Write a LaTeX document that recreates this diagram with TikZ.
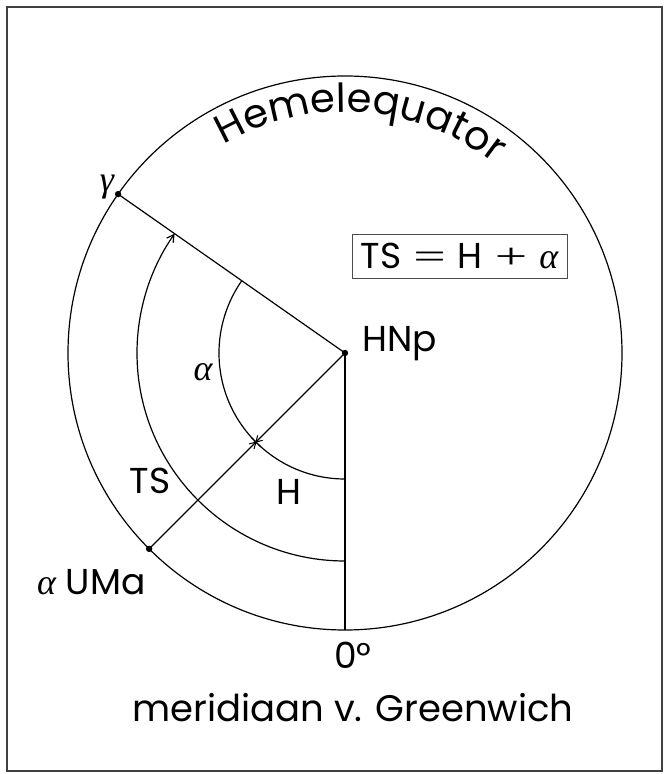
\documentclass[tikz,border=0pt]{standalone}
\usepackage{fontspec}
\setmainfont{Poppins}
\newfontfamily\grk{Liberation Serif}
\usetikzlibrary{decorations.text,arrows.meta}
\tikzset{
  lbl/.style={font=\fontsize{36}{36}\selectfont, inner sep=0pt},
  thinline/.style={line width=1.2pt},
  dotmark/.style={fill=black},
}
\newcommand{\galpha}{{\grk\itshape α}}
\newcommand{\ggamma}{{\grk\itshape γ}}
\newcommand{\wideop}[1]{\scalebox{1.6}[1]{\grk #1}}
\begin{document}
\begin{tikzpicture}[x=1pt,y=1pt]
\useasboundingbox (0,0) rectangle (665,774);
% frame
\draw[line width=2pt, black!75] (7,3) rectangle (662,767);
% centre
\coordinate (C) at (345,421);
\coordinate (G) at ([shift={(345,421)}]145:277pt);
\coordinate (U) at ([shift={(345,421)}]225:277pt);
\coordinate (Z) at ([shift={(345,421)}]270:277pt);
\coordinate (S) at ([shift={(345,421)}]225:126pt);
% circle
\draw[thinline] (C) circle (277pt);
% lines
\draw[thinline] (C) -- (G);
\draw[thinline] (C) -- (U);
\draw[thinline] (C) -- (Z);
% arcs
\draw[thinline] ([shift={(345,421)}]270:126pt) arc[start angle=270, end angle=145, radius=126pt];
\draw[thinline, -{Straight Barb[length=7pt,width=8pt]}] ([shift={(345,421)}]270:208pt) arc[start angle=270, end angle=145, radius=208pt];
% star
\foreach \a in {15,75,135} {\draw[line width=1pt] ([shift={(\a:7pt)}]S) -- ([shift={(\a+180:7pt)}]S);}
% dots
\fill[dotmark] (C) circle (3.2pt);
\fill[dotmark] (G) circle (3.2pt);
\fill[dotmark] (U) circle (3.2pt);
% curved text
\path[decorate, decoration={text along path, text align=center, text={|\fontsize{40}{40}\selectfont|Hemelequator}}]
  ([shift={(345,421)}]160:241pt) arc[start angle=160, end angle=12, radius=241pt];
% labels
\node[lbl, anchor=base west] (hnp) at (362,422) {HNp};
\node[lbl] (gam) at (107,587) {\ggamma};
\node[lbl] (alab) at (203,402) {\galpha};
\node[lbl] (tslab) at (150,293) {TS};
\node[lbl] (hlab) at (289,282) {H};
\node[lbl, anchor=base west] (uma) at (37,179) {\galpha\ UMa};
\node[lbl, anchor=base] (zero) at (353,105) {0°};
\node[lbl, anchor=base, font=\fontsize{37}{37}\selectfont] (merid) at (353,52) {meridiaan v. Greenwich};
\node[lbl, draw=black!70, line width=0.9pt, minimum width=215pt, minimum height=44pt] (box) at (459.5,518) {TS\hspace{12pt}\wideop{=}\hspace{12pt}H\hspace{12pt}\wideop{+}\hspace{12pt}\galpha};
\end{tikzpicture}
\end{document}
